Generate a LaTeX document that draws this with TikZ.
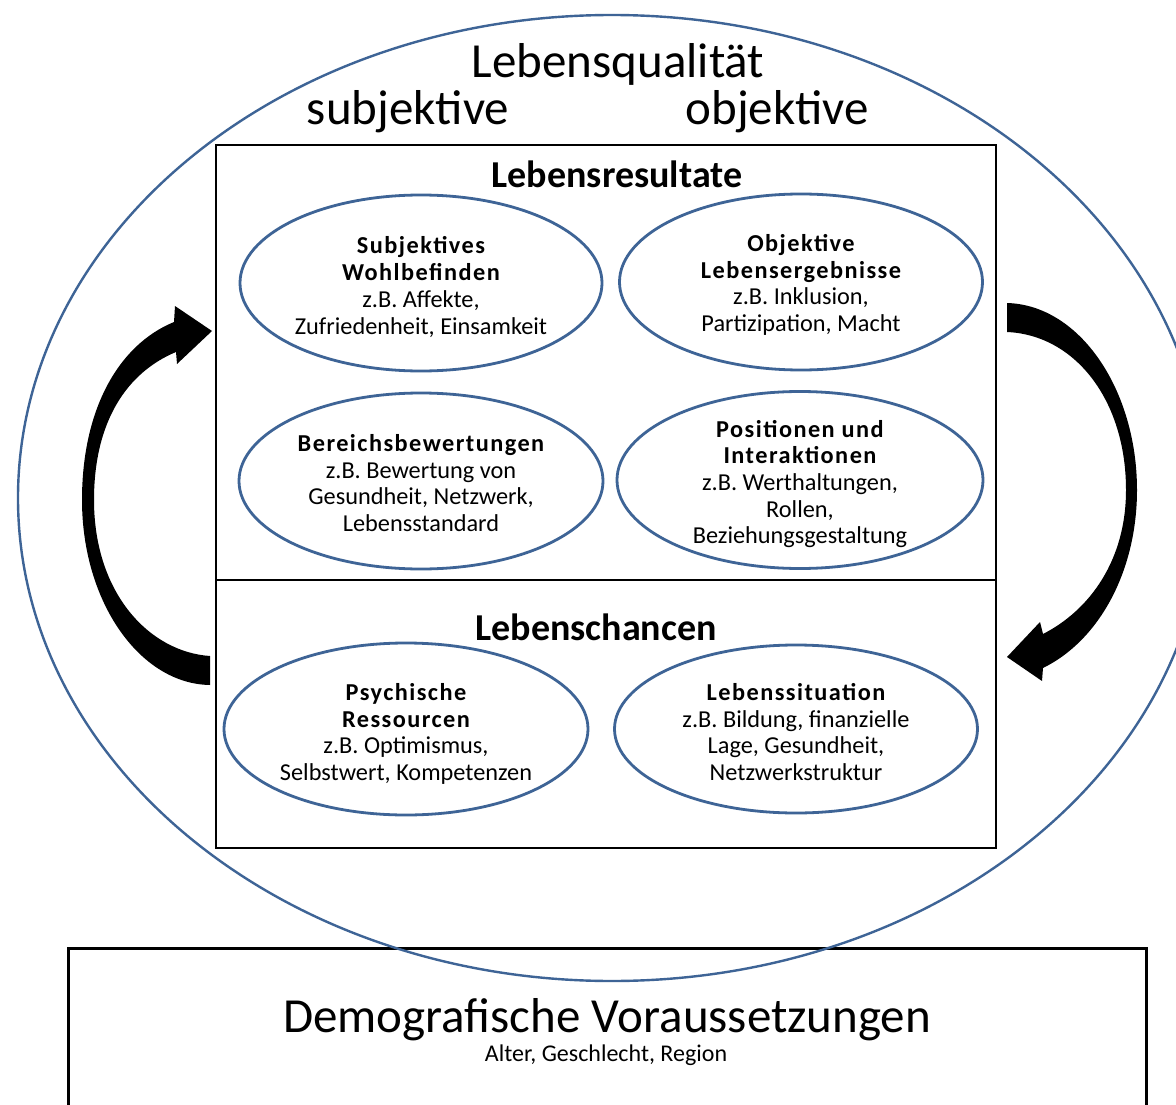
\documentclass[tikz,border=0pt]{standalone}
\usepackage{fontspec}
\setmainfont{Carlito}
\newfontfamily\spbold{Carlito}[LetterSpace=6]
\usetikzlibrary{shapes.geometric}
\definecolor{ringblue}{RGB}{62,100,150}
\newcommand{\bl}[1]{{\spbold\bfseries #1}}
\begin{document}
\begin{tikzpicture}[x=1pt,y=-1pt,
  oval/.style={ellipse, draw=ringblue, line width=2.8pt, inner sep=0pt},
  ovaltext/.style={align=center, inner sep=0pt, font=\fontsize{24.3}{26.7}\selectfont},
  framebox/.style={draw=black, line width=2.6pt, inner sep=0pt},
  bigtext/.style={anchor=base, font=\fontsize{49}{52}\selectfont},
  headtext/.style={anchor=base, font=\bfseries\fontsize{38}{42}\selectfont},
  arrowshape/.style={fill=black}]
\useasboundingbox (0,0) rectangle (1176,1105);
\clip (0,0) rectangle (1176,1105);
\fill[white] (0,0) rectangle (1176,1105);

% bottom box
\node[framebox, line width=3pt, minimum width=1078pt, minimum height=182pt] (demobox) at (607,1039) {};
\node[bigtext] (demo) at (607,1032) {Demografische Voraussetzungen};
\node[anchor=base, font=\fontsize{24}{26}\selectfont] (demosub) at (606,1061) {Alter, Geschlecht, Region};

% outer ellipse
\node[ellipse, draw=ringblue, line width=2.4pt, inner sep=0pt,
  minimum width=1188pt, minimum height=966pt] (lq) at (612,498) {};
\node[bigtext] (lqt) at (618,78) {Lebensqualität};
\node[bigtext] (subj) at (408,125) {subjektive};
\node[bigtext] (obj) at (777,125) {objektive};

% inner frame
\node[framebox, minimum width=780pt, minimum height=703pt] (frame) at (606,496.5) {};
\coordinate (dl) at (216,580);
\coordinate (dr) at (996,580);
\draw[line width=2.2pt] (dl) -- (dr);
\node[headtext] (res) at (617,187) {Lebensresultate};
\node[headtext] (cha) at (596,640) {Lebenschancen};

% ellipses
\node[oval, minimum width=362pt, minimum height=176pt] (swb) at (421,283) {};
\node[ovaltext] (swbt) at (421,287)
  {\bl{Subjektives}\\\bl{Wohlbefinden}\\z.B. Affekte,\\Zufriedenheit, Einsamkeit};
\node[oval, minimum width=363pt, minimum height=176pt] (oleb) at (801,282) {};
\node[ovaltext] (olebt) at (801,285)
  {\bl{Objektive}\\\bl{Lebensergebnisse}\\z.B. Inklusion,\\Partizipation, Macht};
\node[oval, minimum width=364pt, minimum height=176pt] (bew) at (421,481) {};
\node[ovaltext] (bewt) at (421,483)
  {\bl{Bereichsbewertungen}\\z.B. Bewertung von\\Gesundheit, Netzwerk,\\Lebensstandard};
\node[oval, minimum width=366pt, minimum height=177pt] (pos) at (800,480) {};
\node[ovaltext] (post) at (800,484)
  {\bl{Positionen und}\\\bl{Interaktionen}\\z.B. Werthaltungen,\\Rollen,\\Beziehungsgestaltung};
\node[oval, minimum width=364pt, minimum height=172pt] (psy) at (406,729) {};
\node[ovaltext] (psyt) at (406,734)
  {\bl{Psychische}\\\bl{Ressourcen}\\z.B. Optimismus,\\Selbstwert, Kompetenzen};
\node[oval, minimum width=363pt, minimum height=168pt] (sit) at (796,729) {};
\node[ovaltext] (sitt) at (796,732)
  {\bl{Lebenssituation}\\z.B. Bildung, finanzielle\\Lage, Gesundheit,\\Netzwerkstruktur};

% curved arrows
\fill[arrowshape] (210,685) .. controls (140,684) and (82,602) .. (82,500)
  .. controls (82,410) and (118,345) .. (174,322)
  -- (175,306) -- (212,331) -- (177,364) -- (176,352)
  .. controls (128,372) and (94,420) .. (94,500)
  .. controls (94,594) and (150,652) .. (210,656) -- cycle;
\fill[arrowshape] (1007,303) .. controls (1080,305) and (1137,390) .. (1137,490)
  .. controls (1137,570) and (1100,640) .. (1043,668)
  -- (1042,681) -- (1007,657) -- (1040,622) -- (1043,634)
  .. controls (1090,610) and (1126,560) .. (1126,490)
  .. controls (1126,400) and (1075,335) .. (1007,332) -- cycle;
\end{tikzpicture}
\end{document}
